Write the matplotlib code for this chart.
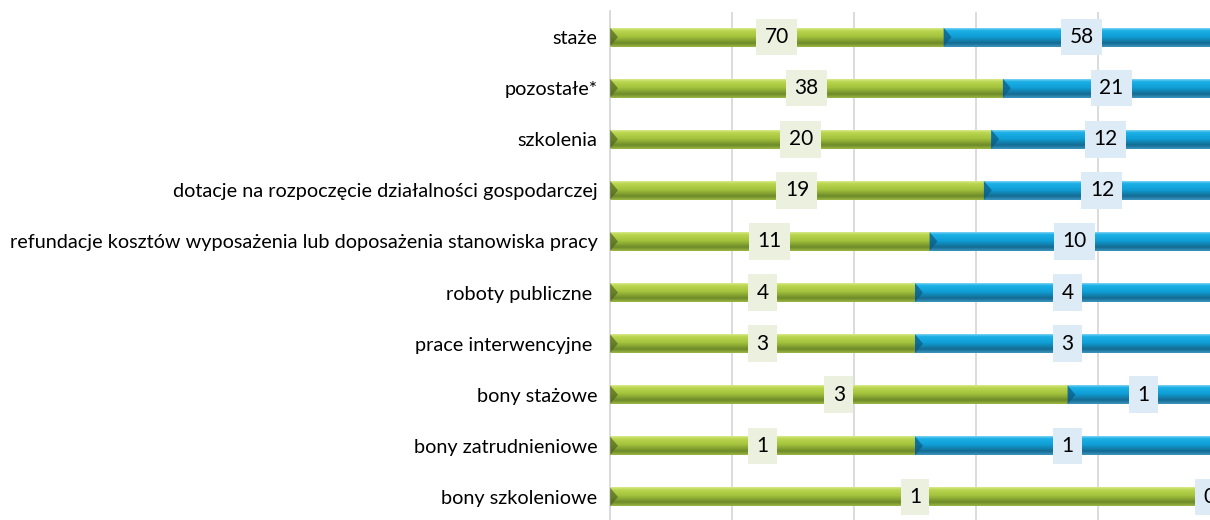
import numpy as np
import matplotlib.pyplot as plt
from matplotlib.colors import LinearSegmentedColormap

categories = ["staże", "pozostałe*", "szkolenia",
              "dotacje na rozpoczęcie działalności gospodarczej",
              "refundacje kosztów wyposażenia lub doposażenia stanowiska pracy",
              "roboty publiczne ", "prace interwencyjne ", "bony stażowe",
              "bony zatrudnieniowe", "bony szkoleniowe"]
green_vals = [70, 38, 20, 19, 11, 4, 3, 3, 1, 1]
blue_vals = [58, 21, 12, 12, 10, 4, 3, 1, 1, 0]

green = np.array(green_vals, dtype=float)
blue = np.array(blue_vals, dtype=float)
total = green + blue
g_pct = green / total * 100
b_pct = blue / total * 100

plt.rcParams['font.family'] = ['Lato', 'DejaVu Sans']

fig = plt.figure(figsize=(12.1, 5.2), dpi=100)
ax = fig.add_axes([610 / 1210, -2.5 / 520, 610 / 1210, 511 / 520])

y = np.arange(len(categories))
bar_h = 0.37
gb = ax.barh(y, g_pct, height=bar_h, color='none', zorder=2)
bb = ax.barh(y, b_pct, left=g_pct, height=bar_h, color='none', zorder=2)

# bevelled look: vertical gradient painted inside each bar
green_cm = LinearSegmentedColormap.from_list(
    'g', [(0, '#d9ea8c'), (0.12, '#bcd752'), (0.45, '#a3c23c'),
          (0.8, '#6d8a29'), (1, '#9cb743')])
blue_cm = LinearSegmentedColormap.from_list(
    'b', [(0, '#7fd3f2'), (0.12, '#1cb0e6'), (0.45, '#0f9fd6'),
          (0.8, '#156b92'), (1, '#3b95bf')])
grad = np.linspace(0, 1, 64).reshape(-1, 1)
for bars, cm, dark in ((gb, green_cm, '#4f6620'), (bb, blue_cm, '#0d5a80')):
    for p in bars:
        x0, y0 = p.get_x(), p.get_y()
        w, h = p.get_width(), p.get_height()
        if w <= 0:
            continue
        ax.imshow(grad, cmap=cm, aspect='auto', origin='upper',
                  extent=(x0, x0 + w, y0 + h, y0), zorder=2,
                  interpolation='bilinear')
        # small chamfer at the start of the segment
        ax.fill([x0, x0 + 1.3, x0], [y0, y0 + h / 2, y0 + h],
                color=dark, alpha=0.7, zorder=3, lw=0)

# value labels in the middle of each segment (kept just inside the right edge)
for i in range(len(categories)):
    ax.text(g_pct[i] / 2, y[i], str(green_vals[i]), ha='center', va='center',
            fontsize=15, zorder=5,
            bbox=dict(boxstyle='square,pad=0.4', fc='#ebf1de', ec='none'))
    ax.text(min(g_pct[i] + b_pct[i] / 2, 98.2), y[i], str(blue_vals[i]),
            ha='center', va='center', fontsize=15, zorder=5,
            bbox=dict(boxstyle='square,pad=0.4', fc='#ddebf7', ec='none'))

ax.set_xlim(0, 100)
ax.set_ylim(len(categories) - 0.5, -0.5)
ax.set_xticks([0, 20, 40, 60, 80, 100])
ax.set_xticklabels([])
ax.tick_params(axis='x', length=0)
ax.grid(axis='x', color='#d9d9d9', lw=1.3, zorder=0)
ax.set_yticks(y)
ax.set_yticklabels(categories, fontsize=14.3)
ax.tick_params(axis='y', length=0, pad=9)
for s in ['top', 'right', 'bottom']:
    ax.spines[s].set_visible(False)
ax.spines['left'].set_color('#d9d9d9')
ax.spines['left'].set_linewidth(1.3)
ax.set_axisbelow(True)

fig.savefig('out.png', dpi=100)
